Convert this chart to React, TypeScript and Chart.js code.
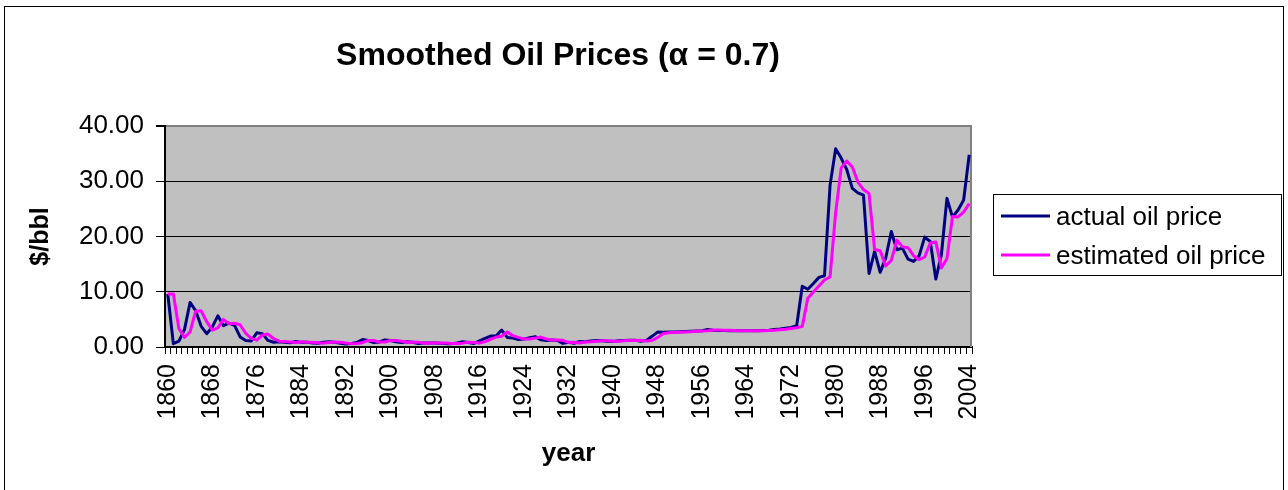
import React, { useEffect, useRef } from "react";
import { Chart, registerables } from "chart.js";

Chart.register(...registerables);

const FONT = '"Liberation Sans", Arial, sans-serif';

const years: string[] = [
  "1860", "1861", "1862", "1863", "1864", "1865", "1866", "1867", "1868", "1869",
  "1870", "1871", "1872", "1873", "1874", "1875", "1876", "1877", "1878", "1879",
  "1880", "1881", "1882", "1883", "1884", "1885", "1886", "1887", "1888", "1889",
  "1890", "1891", "1892", "1893", "1894", "1895", "1896", "1897", "1898", "1899",
  "1900", "1901", "1902", "1903", "1904", "1905", "1906", "1907", "1908", "1909",
  "1910", "1911", "1912", "1913", "1914", "1915", "1916", "1917", "1918", "1919",
  "1920", "1921", "1922", "1923", "1924", "1925", "1926", "1927", "1928", "1929",
  "1930", "1931", "1932", "1933", "1934", "1935", "1936", "1937", "1938", "1939",
  "1940", "1941", "1942", "1943", "1944", "1945", "1946", "1947", "1948", "1949",
  "1950", "1951", "1952", "1953", "1954", "1955", "1956", "1957", "1958", "1959",
  "1960", "1961", "1962", "1963", "1964", "1965", "1966", "1967", "1968", "1969",
  "1970", "1971", "1972", "1973", "1974", "1975", "1976", "1977", "1978", "1979",
  "1980", "1981", "1982", "1983", "1984", "1985", "1986", "1987", "1988", "1989",
  "1990", "1991", "1992", "1993", "1994", "1995", "1996", "1997", "1998", "1999",
  "2000", "2001", "2002", "2003", "2004",
];

const actualPrice: number[] = [
  9.59, 0.60, 1.05, 3.15, 8.06, 6.59, 3.74, 2.41, 3.63, 5.64,
  3.86, 4.34, 3.90, 1.83, 1.17, 1.10, 2.56, 2.42, 1.19, 0.86,
  0.95, 0.86, 0.78, 1.00, 0.84, 0.88, 0.71, 0.67, 0.88, 0.94,
  0.87, 0.67, 0.56, 0.64, 0.84, 1.36, 1.18, 0.79, 0.91, 1.29,
  1.19, 0.96, 0.80, 0.94, 0.86, 0.62, 0.73, 0.72, 0.72, 0.70,
  0.61, 0.61, 0.74, 0.95, 0.81, 0.64, 1.10, 1.56, 1.98, 2.01,
  3.07, 1.73, 1.61, 1.34, 1.43, 1.68, 1.88, 1.30, 1.17, 1.27,
  1.19, 0.65, 0.87, 0.67, 1.00, 0.97, 1.09, 1.18, 1.13, 1.02,
  1.02, 1.14, 1.19, 1.20, 1.21, 1.05, 1.20, 1.93, 2.70, 2.65,
  2.70, 2.70, 2.75, 2.80, 2.85, 2.90, 2.95, 3.15, 3.05, 3.00,
  3.00, 2.95, 2.95, 2.95, 2.95, 2.95, 2.95, 3.00, 3.05, 3.15,
  3.25, 3.40, 3.55, 3.85, 11.00, 10.45, 11.50, 12.60, 12.90, 29.30,
  35.90, 34.20, 32.10, 28.70, 27.90, 27.50, 13.30, 17.30, 13.50, 16.10,
  20.90, 17.60, 17.90, 15.90, 15.50, 16.50, 19.90, 19.10, 12.30, 16.70,
  26.90, 23.50, 24.80, 26.60, 34.80,
];

const estimatedPrice: number[] = [
  9.59, 9.59, 3.30, 1.73, 2.72, 6.46, 6.55, 4.58, 3.06, 3.46,
  4.99, 4.20, 4.30, 4.02, 2.49, 1.57, 1.24, 2.16, 2.34, 1.54,
  1.06, 0.98, 0.90, 0.82, 0.95, 0.87, 0.88, 0.76, 0.70, 0.83,
  0.91, 0.88, 0.73, 0.61, 0.63, 0.78, 1.19, 1.18, 0.91, 0.91,
  1.18, 1.19, 1.03, 0.87, 0.92, 0.88, 0.70, 0.72, 0.72, 0.72,
  0.71, 0.64, 0.62, 0.70, 0.88, 0.83, 0.70, 0.98, 1.39, 1.80,
  1.95, 2.73, 2.03, 1.74, 1.46, 1.44, 1.61, 1.80, 1.45, 1.25,
  1.26, 1.21, 0.82, 0.86, 0.73, 0.92, 0.96, 1.05, 1.14, 1.13,
  1.05, 1.03, 1.11, 1.17, 1.19, 1.20, 1.10, 1.17, 1.70, 2.40,
  2.58, 2.66, 2.69, 2.73, 2.78, 2.83, 2.88, 2.93, 3.08, 3.06,
  3.02, 3.01, 2.97, 2.96, 2.95, 2.95, 2.95, 2.95, 2.99, 3.03,
  3.11, 3.21, 3.34, 3.49, 3.74, 8.82, 9.96, 11.04, 12.13, 12.67,
  24.31, 32.42, 33.67, 32.57, 29.86, 28.49, 27.80, 17.65, 17.41, 14.67,
  15.67, 19.33, 18.12, 17.97, 16.52, 15.81, 16.29, 18.82, 19.02, 14.32,
  15.99, 23.63, 23.54, 24.42, 25.95,
];

const yMin = 0;
const yMax = 40;
const yStep = 10;
const xLabelEvery = 8;

const seriesNames = ["actual oil price", "estimated oil price"];
const seriesColors = ["#000080", "#FF00FF"];
const chartTitle = "Smoothed Oil Prices (\u03B1 = 0.7)";

const W = 1288;
const H = 490;

const decorPlugin = {
  id: "decor",
  beforeDraw(chart: any) {
    const { ctx, chartArea: a } = chart;
    ctx.save();
    ctx.fillStyle = "#FFFFFF";
    ctx.fillRect(0, 0, chart.width, chart.height);
    ctx.strokeStyle = "#000000";
    ctx.lineWidth = 1;
    ctx.strokeRect(4.5, 6.5, 1279, 500);
    ctx.fillStyle = "#C0C0C0";
    ctx.fillRect(a.left, a.top, a.right - a.left, a.bottom - a.top);
    ctx.restore();
  },
  beforeDatasetsDraw(chart: any) {
    const { ctx, chartArea: a } = chart;
    ctx.save();
    ctx.strokeStyle = "#808080";
    ctx.lineWidth = 2;
    ctx.beginPath();
    ctx.moveTo(a.right - 1, a.top);
    ctx.lineTo(a.right - 1, a.bottom);
    ctx.stroke();
    ctx.restore();
  },
  afterDraw(chart: any) {
    const { ctx } = chart;
    ctx.save();
    ctx.fillStyle = "#000000";
    ctx.font = `bold 32px ${FONT}`;
    ctx.textAlign = "center";
    ctx.textBaseline = "alphabetic";
    ctx.fillText(chartTitle, 558, 65);

    // legend
    ctx.strokeStyle = "#000000";
    ctx.lineWidth = 1;
    ctx.strokeRect(993.5, 194.5, 288, 81);
    const rows = [216, 255];
    ctx.font = `26px ${FONT}`;
    ctx.textAlign = "left";
    seriesNames.forEach((name, i) => {
      ctx.strokeStyle = seriesColors[i];
      ctx.lineWidth = 3;
      ctx.beginPath();
      ctx.moveTo(1001, rows[i]);
      ctx.lineTo(1050, rows[i]);
      ctx.stroke();
      ctx.fillStyle = "#000000";
      ctx.fillText(name, 1056, rows[i] + 9);
    });
    ctx.restore();
  },
};

export default function App() {
  const ref = useRef<HTMLCanvasElement | null>(null);

  useEffect(() => {
    if (!ref.current) return;
    const chart = new Chart(ref.current, {
      type: "line",
      data: {
        labels: years,
        datasets: [
          {
            label: seriesNames[0],
            data: actualPrice,
            borderColor: seriesColors[0],
            backgroundColor: seriesColors[0],
            borderWidth: 3,
            pointRadius: 0,
            tension: 0,
            borderJoinStyle: "round",
            order: 2,
          },
          {
            label: seriesNames[1],
            data: estimatedPrice,
            borderColor: seriesColors[1],
            backgroundColor: seriesColors[1],
            borderWidth: 3,
            pointRadius: 0,
            tension: 0,
            borderJoinStyle: "round",
            order: 1,
          },
        ],
      },
      options: {
        responsive: false,
        animation: false,
        events: [],
        layout: { padding: { left: 0, top: 126, right: W - 972, bottom: 0 } },
        plugins: {
          legend: { display: false },
          title: { display: false },
          tooltip: { enabled: false },
        },
        scales: {
          x: {
            type: "category",
            offset: true,
            afterFit: (s: any) => {
              s.height = H - 347;
            },
            grid: {
              display: true,
              offset: true,
              drawOnChartArea: false,
              drawTicks: true,
              tickLength: 7,
              color: "#000000",
              lineWidth: 1,
            },
            border: { display: true, color: "#000000", width: 2 },
            ticks: {
              autoSkip: false,
              minRotation: 90,
              maxRotation: 90,
              padding: 10,
              color: "#000000",
              font: { family: FONT, size: 25 },
              callback: (_v: any, i: number) => (i % xLabelEvery === 0 ? years[i] : ""),
            },
            title: {
              display: true,
              text: "year",
              color: "#000000",
              font: { family: FONT, size: 26, weight: "bold", lineHeight: 1 },
              padding: { top: 0, bottom: 23 },
            },
          },
          y: {
            min: yMin,
            max: yMax,
            afterFit: (s: any) => {
              s.width = 165;
            },
            grid: {
              color: (c: any) => (c.tick && c.tick.value === yMax ? "#808080" : "#000000"),
              lineWidth: (c: any) => (c.tick && c.tick.value === yMax ? 2 : 1),
              tickColor: "#000000",
              tickLength: 9,
              drawTicks: true,
            },
            border: { display: true, color: "#000000", width: 2 },
            ticks: {
              stepSize: yStep,
              padding: 12,
              color: "#000000",
              font: { family: FONT, size: 26 },
              callback: (v: any) => Number(v).toFixed(2),
            },
            title: {
              display: true,
              text: "$/bbl",
              color: "#000000",
              font: { family: FONT, size: 25, weight: "bold", lineHeight: 1 },
              padding: { top: 29, bottom: 0 },
            },
          },
        },
      },
      plugins: [decorPlugin],
    } as any);
    return () => chart.destroy();
  }, []);

  return (
    <div style={{ position: "absolute", left: 0, top: 0, width: W, height: H, background: "#fff" }}>
      <canvas ref={ref} width={W} height={H} style={{ width: W, height: H, display: "block" }} />
    </div>
  );
}
